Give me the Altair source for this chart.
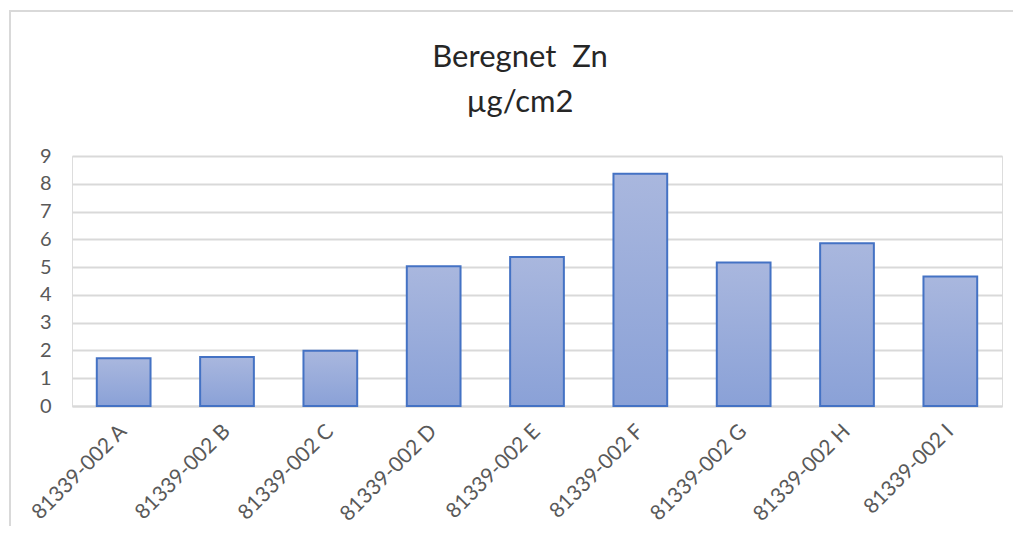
import altair as alt
import pandas as pd

samples = ["81339-002 A", "81339-002 B", "81339-002 C", "81339-002 D", "81339-002 E",
           "81339-002 F", "81339-002 G", "81339-002 H", "81339-002 I"]
zn_values = [1.72, 1.76, 1.99, 5.03, 5.36, 8.36, 5.17, 5.86, 4.66]
title_lines = ["Beregnet\u00a0 Zn", "µg/cm2"]

df = pd.DataFrame({"sample": samples, "zn": zn_values})
title_df = pd.DataFrame({"line": title_lines, "row": [0, 1]})

FONT = "Lato"
LABEL_COLOR = "#595959"
GRID = "#d9d9d9"

bars = alt.Chart(df).mark_bar(
    fill=alt.Gradient(
        gradient="linear",
        stops=[alt.GradientStop(color="#a9b7de", offset=0),
               alt.GradientStop(color="#8aa1d7", offset=1)],
        x1=0, x2=0, y1=0, y2=1,
    ),
    stroke="#4472c4",
    strokeWidth=2,
).encode(
    x=alt.X("sample:N", sort=samples, title=None,
            scale=alt.Scale(paddingInner=0.48, paddingOuter=0.24),
            axis=alt.Axis(labelAngle=-45, labelAlign="right", labelBaseline="middle",
                          labelPadding=22, ticks=False, domain=True, domainColor=GRID,
                          domainWidth=2, labelFont=FONT, labelFontSize=21,
                          labelColor=LABEL_COLOR, grid=False)),
    y=alt.Y("zn:Q", title=None,
            scale=alt.Scale(domain=[0, 9]),
            axis=alt.Axis(values=list(range(0, 10)), ticks=False, domain=False,
                          gridColor=GRID, gridWidth=2, labelFont=FONT, labelFontSize=20,
                          labelColor=LABEL_COLOR, labelPadding=21, format="d")),
)

border = alt.Chart(df).mark_rect(
    fill=None, filled=False, stroke=GRID, strokeWidth=2, clip=False
).encode(
    x=alt.value(-62), x2=alt.value(960), y=alt.value(-145), y2=alt.value(420)
).transform_filter(alt.datum.sample == samples[0])

title1 = alt.Chart(title_df).mark_text(
    font=FONT, fontSize=31, color="#262626", align="center", baseline="alphabetic"
).encode(
    text="line:N", x=alt.value(448), y=alt.value(-89)
).transform_filter(alt.datum.row == 0)

title2 = alt.Chart(title_df).mark_text(
    font=FONT, fontSize=31, color="#262626", align="center", baseline="alphabetic"
).encode(
    text="line:N", x=alt.value(448), y=alt.value(-44)
).transform_filter(alt.datum.row == 1)

chart = alt.layer(border, bars, title1, title2).properties(
    width=930,
    height=250,
    autosize=alt.AutoSizeParams(type="none"),
    padding={"left": 64, "top": 148, "right": 11, "bottom": 120},
).configure_view(stroke=None).configure(background="white")

chart.save("out.html", embed_options={"renderer": "svg", "actions": False})
